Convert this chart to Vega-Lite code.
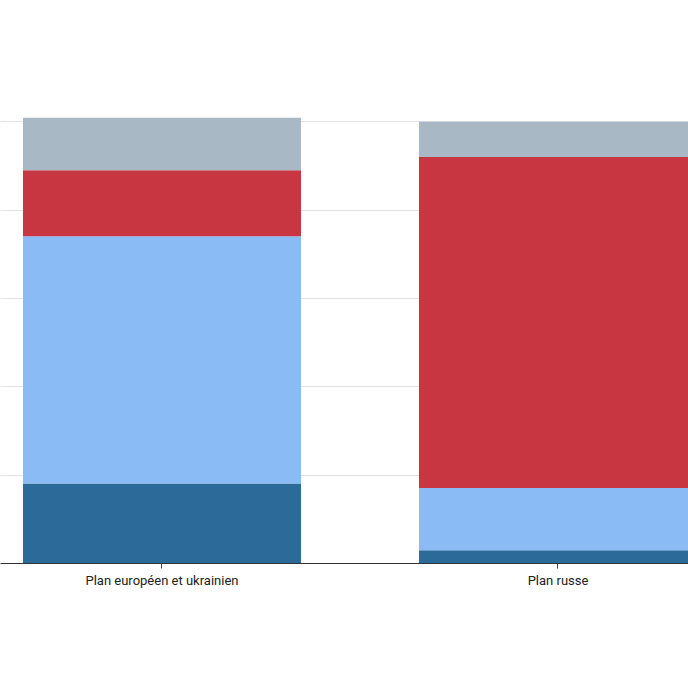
{
  "$schema": "https://vega.github.io/schema/vega-lite/v6.json",
  "width": 688,
  "height": 530,
  "autosize": {"type": "none"},
  "padding": {"top": 33, "left": 0, "right": 0, "bottom": 125},
  "background": "#ffffff",
  "config": {"view": {"stroke": null}},
  "data": {
    "values": [
      {"plan": "Plan européen et ukrainien", "groupe": "Catégorie 1", "rang": 1, "valeur": 18.0},
      {"plan": "Plan européen et ukrainien", "groupe": "Catégorie 2", "rang": 2, "valeur": 56.0},
      {"plan": "Plan européen et ukrainien", "groupe": "Catégorie 3", "rang": 3, "valeur": 14.9},
      {"plan": "Plan européen et ukrainien", "groupe": "Catégorie 4", "rang": 4, "valeur": 11.9},
      {"plan": "Plan russe", "groupe": "Catégorie 1", "rang": 1, "valeur": 2.9},
      {"plan": "Plan russe", "groupe": "Catégorie 2", "rang": 2, "valeur": 14.1},
      {"plan": "Plan russe", "groupe": "Catégorie 3", "rang": 3, "valeur": 74.9},
      {"plan": "Plan russe", "groupe": "Catégorie 4", "rang": 4, "valeur": 8.0}
    ]
  },
  "mark": {"type": "bar"},
  "encoding": {
    "x": {
      "field": "plan",
      "type": "nominal",
      "sort": ["Plan européen et ukrainien", "Plan russe"],
      "scale": {"type": "band", "range": [0, 697], "paddingInner": 0.298, "paddingOuter": 0.029, "align": 1},
      "axis": {
        "title": null,
        "domain": false,
        "ticks": true,
        "tickSize": 5,
        "tickColor": "#444444",
        "labelAngle": 0,
        "labelFont": "Roboto",
        "labelFontSize": 13,
        "labelColor": "#222222",
        "labelPadding": 6
      }
    },
    "y": {
      "field": "valeur",
      "type": "quantitative",
      "stack": "zero",
      "scale": {"domain": [0, 120], "nice": false},
      "axis": {
        "values": [0, 20, 40, 60, 80, 100],
        "labels": false,
        "ticks": false,
        "domain": false,
        "title": null,
        "grid": true,
        "gridColor": {"condition": {"test": "datum.value === 0", "value": "#333333"}, "value": "#e3e3e3"},
        "gridWidth": 1
      }
    },
    "color": {
      "field": "groupe",
      "type": "nominal",
      "scale": {
        "domain": ["Catégorie 1", "Catégorie 2", "Catégorie 3", "Catégorie 4"],
        "range": ["#2c6a9a", "#8abbf4", "#c83642", "#a8b8c4"]
      },
      "legend": null
    },
    "order": {"field": "rang", "type": "quantitative"}
  }
}
